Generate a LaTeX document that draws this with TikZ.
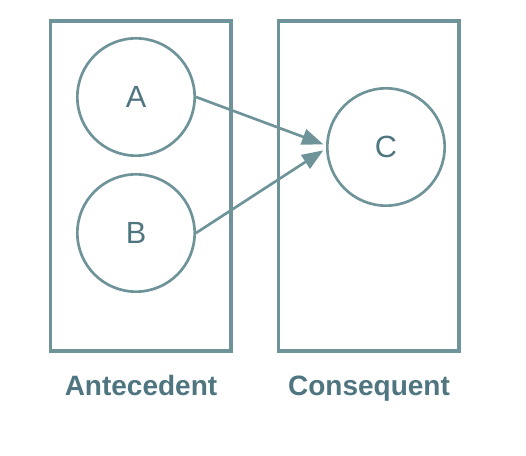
\documentclass[tikz,border=0pt]{standalone}
\usepackage{fontspec}
\setmainfont{Liberation Sans}
\usepackage{tikz}
\usetikzlibrary{arrows.meta}
\definecolor{linegray}{HTML}{6E9398}
\definecolor{textgray}{HTML}{4F7580}
\tikzset{
  setbox/.style={draw=linegray, line width=2.4pt},
  item/.style={circle, draw=linegray, line width=2pt, minimum size=88pt, inner sep=0pt, text=textgray, font=\fontsize{23}{23}\selectfont},
  link/.style={draw=linegray, line width=2pt, -{Triangle[length=16pt,width=12pt]}},
  setlabel/.style={text=textgray, anchor=base, font=\bfseries\fontsize{21}{21}\selectfont}
}
\begin{document}
\begin{tikzpicture}[x=0.75pt,y=0.75pt,yscale=-1,xscale=1]
	\useasboundingbox (0,0) rectangle (526,456);
	
	%Sets
	\draw [setbox] (50.5,21) rectangle (231,351);
	\draw [setbox] (278.5,21) rectangle (459,351);
	
	%Items
	\node [item] (A) at (136,97) {A};
	\node [item] (B) at (136,233) {B};
	\node [item] (C) at (386,147) {C};
	
	%Rule (y is flipped, so a negative yshift goes up)
	\draw [link] (A.east) -- ([xshift=-2pt,yshift=-2pt]C.west);
	\draw [link] (B.east) -- ([xshift=-2pt,yshift=2.5pt]C.west);
	
	% Text Node
	\node [setlabel] (ante) at (141,396) {Antecedent};
	% Text Node
	\node [setlabel] (cons) at (369,396) {Consequent};
	
\end{tikzpicture}
\end{document}
